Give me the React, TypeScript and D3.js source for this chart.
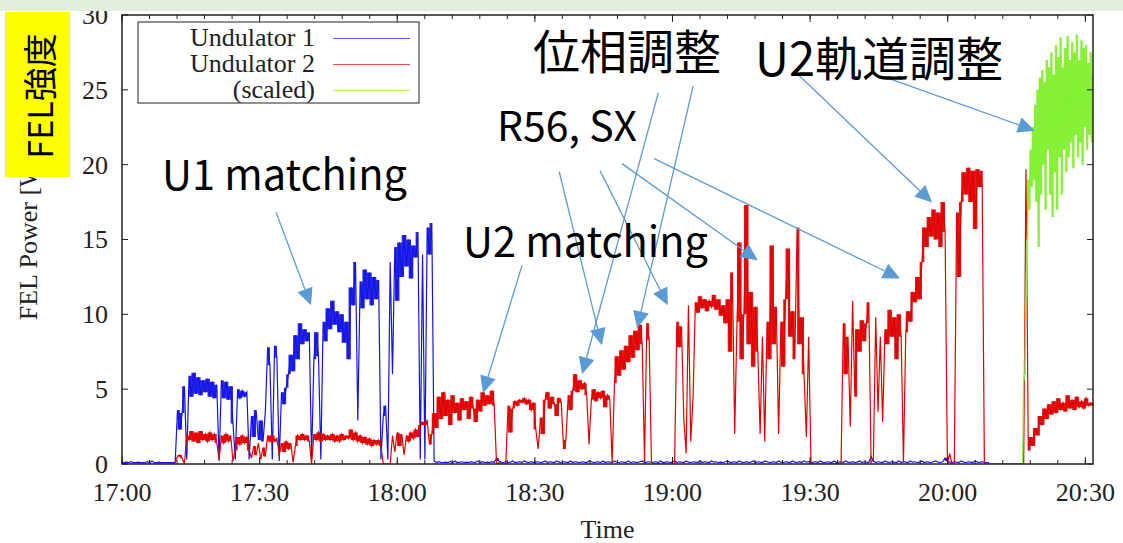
import React, { useEffect } from "react";
import * as d3 from "d3";

// ---- data ----
// logged samples, minutes after 17:00, one every SAMPLE_MIN minutes
const SAMPLE_MIN = 0.504;
const X_MAX_MIN = 211.67;

// Undulator 1 (blue) FEL power [W]
const undulator1: number[] = [
  0.1, 0.1, 0.12, 0.1, 0.15, 0.1, 0.1, 0.12, 0.1, 0.1,
  0.1, 0.15, 0.1, 0.2, 0.1, 0.1, 0.12, 0.1, 0.1, 0.1,
  0.1, 0.1, 0.1, 0.1, 3.6, 2.3, 3.4, 5.2, 0.3, 5.9,
  4.5, 6.1, 4.7, 5.8, 4.6, 5.6, 4.8, 5.7, 4.5, 5.5,
  4.4, 5.3, 0.2, 5.6, 4.4, 5.5, 4.3, 5.2, 2.7, 0.3,
  5.0, 4.4, 4.9, 4.5, 4.8, 0.3, 3.2, 1.8, 3.6, 1.6,
  2.9, 1.5, 3.5, 7.8, 6.6, 0.3, 7.9, 7.1, 0.2, 4.8,
  4.0, 5.1, 6.0, 7.3, 6.2, 8.6, 7.0, 9.4, 8.0, 9.0,
  8.2, 8.8, 0.3, 7.0, 8.8, 7.2, 0.3, 9.5, 8.2, 10.4,
  9.0, 10.9, 9.3, 10.2, 8.8, 10.0, 8.1, 9.5, 7.0, 11.8,
  10.6, 13.5, 2.9, 12.2, 10.4, 13.0, 11.0, 12.8, 10.6, 12.5,
  11.0, 12.3, 0.3, 3.2, 3.9, 0.3, 13.5, 6.0, 14.5, 10.9,
  14.8, 12.5, 15.3, 13.2, 15.0, 12.4, 14.6, 13.8, 15.5, 0.3,
  14.0, 0.3, 15.8, 14.0, 16.1, 0.2, 0.1, 0.15, 0.1, 0.1,
  0.12, 0.1, 0.15, 0.1, 0.2, 0.1, 0.12, 0.15, 0.1, 0.12,
  0.1, 0.15, 0.1, 0.12, 0.2, 0.1, 0.15, 0.1, 0.12, 0.1,
  0.15, 0.1, 0.4, 0.2, 0.12, 0.1, 0.15, 0.1, 0.12, 0.2,
  0.1, 0.12, 0.15, 0.1, 0.2, 0.12, 0.1, 0.15, 0.1, 0.12,
  0.15, 0.1, 0.12, 0.2, 0.1, 0.15, 0.12, 0.1, 0.2, 0.12,
  0.1, 0.15, 0.12, 0.1, 0.2, 0.1, 0.15, 0.12, 0.1, 0.15,
  0.12, 0.1, 0.2, 0.15, 0.1, 0.12, 0.15, 0.1, 0.2, 0.1,
  0.15, 0.12, 0.1, 0.2, 0.12, 0.1, 0.15, 0.12, 0.1, 0.2,
  0.1, 0.15, 0.12, 0.1, 0.15, 0.2, 0.1, 0.12, 0.15, 0.1,
  0.12, 0.15, 0.1, 0.2, 0.1, 0.12, 0.15, 0.1, 0.12, 0.2,
  0.1, 0.15, 0.12, 0.1, 0.2, 0.12, 0.1, 0.15, 0.12, 0.1,
  0.2, 0.1, 0.15, 0.12, 0.1, 0.2, 0.12, 0.15, 0.1, 0.12,
  0.1, 0.15, 0.2, 0.1, 0.12, 0.15, 0.1, 0.2, 0.12, 0.1,
  0.15, 0.1, 0.12, 0.2, 0.1, 0.15, 0.12, 0.1, 0.2, 0.15,
  0.1, 0.12, 0.15, 0.1, 0.2, 0.12, 0.1, 0.15, 0.12, 0.1,
  0.2, 0.12, 0.1, 0.15, 0.1, 0.2, 0.12, 0.15, 0.1, 0.12,
  0.15, 0.1, 0.2, 0.12, 0.1, 0.15, 0.12, 0.1, 0.2, 0.1,
  0.12, 0.15, 0.1, 0.2, 0.12, 0.1, 0.15, 0.1, 0.12, 0.2,
  0.1, 0.15, 0.12, 0.1, 0.5, 0.2, 0.1, 0.15, 0.12, 0.1,
  0.2, 0.12, 0.1, 0.15, 0.12, 0.1, 0.2, 0.1, 0.15, 0.12,
  0.1, 0.2, 0.12, 0.15, 0.1, 0.12, 0.2, 0.1, 0.15, 0.12,
  0.1, 0.15, 0.2, 0.12, 0.1, 0.15, 0.4, 0.2, 0.12, 0.1,
  0.15, 0.12, 0.1, 0.2, 0.12, 0.1, 0.15, 0.12, 0.1, 0.2,
  0.12, 0.1, 0.15, 0.1, 0.1, 0.1,
];

// Undulator 2 (red) FEL power [W]
const undulator2: number[] = [
  0, 0, 0, 0, 0, 0, 0, 0, 0, 0,
  0, 0, 0, 0, 0, 0, 0, 0, 0, 0,
  0, 0, 0, 0.1, 0.5, 0.6, 0.4, 0, 1.9, 1.6,
  2.2, 1.5, 2.1, 1.4, 2.2, 1.6, 2.0, 1.5, 2.1, 1.6,
  2.0, 1.4, 0.3, 1.9, 1.4, 2.0, 1.5, 1.9, 0.2, 0.9,
  1.8, 1.3, 1.9, 1.4, 1.8, 0.9, 0.4, 1.2, 0.6, 1.4,
  0.3, 1.1, 0.5, 1.9, 1.5, 1.9, 1.5, 1.7, 0.6, 1.4,
  0.8, 1.5, 1.0, 1.4, 0.1, 1.2, 1.9, 1.6, 2.0, 1.6,
  1.9, 1.5, 0, 2.0, 1.6, 2.1, 1.5, 2.0, 1.6, 1.9,
  1.6, 2.0, 1.5, 1.9, 1.5, 2.0, 1.6, 1.9, 1.7, 2.3,
  1.6, 2.1, 1.5, 1.9, 1.4, 1.8, 1.3, 1.7, 1.2, 1.6,
  1.3, 1.6, 1.2, 0, 0, 0, 0, 1.9, 0.8, 2.1,
  1.2, 2.0, 0.6, 1.9, 1.5, 2.1, 1.7, 2.3, 1.8, 2.6,
  2.8, 2.6, 2.9, 1.3, 2.0, 3.4, 2.4, 4.5, 3.0, 4.8,
  3.2, 4.3, 2.6, 4.6, 3.4, 4.1, 2.9, 4.4, 3.6, 4.2,
  3.0, 4.5, 3.7, 2.8, 4.3, 3.5, 4.8, 3.9, 4.6, 4.0,
  4.9, 3.9, 0, 0.1, 0, 0, 0, 3.9, 2.1, 3.7,
  4.2, 3.9, 4.3, 4.1, 4.4, 4.0, 4.3, 3.6, 4.1, 2.3,
  1.0, 3.1, 2.0, 4.3, 4.8, 3.7, 4.5, 4.0, 3.2, 4.4,
  4.1, 1.0, 1.6, 4.6, 3.6, 4.9, 6.0, 4.8, 5.6, 5.0,
  5.4, 4.6, 1.3, 4.3, 5.0, 4.2, 4.8, 4.4, 4.9, 3.8,
  4.6, 4.3, 0.1, 5.4, 7.2, 5.9, 7.6, 6.3, 7.9, 6.8,
  8.6, 7.1, 8.9, 7.6, 9.3, 8.0, 0.2, 9.4, 8.3, 0.1,
  0, 0, 0, 0, 0, 0, 0, 0, 0, 0,
  9.5, 7.8, 9.2, 3.0, 0.7, 10.6, 1.5, 4.5, 10.8, 10.1,
  11.2, 10.4, 11.0, 10.2, 10.9, 10.5, 11.3, 10.3, 11.0, 9.9,
  10.6, 9.4, 11.0, 7.5, 12.8, 2.0, 9.5, 14.8, 7.0, 10.0,
  17.3, 8.0, 11.5, 6.5, 10.5, 7.5, 2.0, 8.5, 1.5, 9.5,
  7.0, 14.6, 8.0, 10.5, 2.0, 9.5, 6.5, 11.0, 14.4, 8.5,
  10.2, 7.0, 15.8, 8.0, 9.8, 6.0, 1.8, 8.5, 0.1, 0,
  0, 0, 0, 0, 0, 0, 0, 0, 0, 0,
  0, 0, 9.4, 6.0, 8.5, 2.5, 10.9, 4.5, 9.0, 7.5,
  9.6, 8.2, 9.4, 10.8, 0.1, 0.3, 9.8, 3.5, 8.5, 2.8,
  9.0, 8.0, 10.3, 8.5, 9.8, 7.0, 10.0, 8.5, 0.1, 8.8,
  10.2, 9.5, 11.5, 10.8, 12.5, 11.0, 13.5, 15.8, 14.5, 16.5,
  15.2, 17.0, 15.0, 16.8, 14.5, 17.5, 15.5, 0.1, 0.7, 0,
  0, 16.8, 12.5, 17.5, 19.5, 18.0, 19.8, 17.5, 19.6, 15.7,
  19.7, 18.5, 19.6, 0, 0, 0, 0, 0, 0, 0,
  0, 0, 0, 0, 0, 0, 0, 0, 0, 0,
  0, 19.7, 0.9, 1.8, 1.2, 2.4, 1.9, 3.2, 2.6, 3.7,
  3.0, 4.0, 3.3, 4.2, 3.4, 4.4, 3.6, 4.1, 3.5, 4.6,
  3.7, 4.3, 3.6, 4.5, 3.8, 4.2, 3.7, 4.4, 3.9, 4.1,
  3.9,
];

// Undulator 2 (scaled, green) from 20:16
const SCALED_START_MIN = 196.3;
const SCALED_STEP_MIN = 0.252;
const undulator2Scaled: number[] = [
  0, 5.6, 6.0, 11.0, 15.0, 19.0, 17.0, 21.0, 18.5, 22.5,
  19.0, 24.0, 17.5, 25.0, 14.5, 25.8, 18.0, 26.3, 20.0, 25.5,
  17.0, 27.0, 21.0, 26.5, 18.0, 27.5, 16.5, 26.0, 19.5, 28.0,
  17.0, 27.2, 20.5, 28.5, 18.0, 26.5, 21.0, 27.8, 19.5, 28.6,
  20.5, 27.0, 21.5, 28.2, 19.8, 27.5, 22.0, 28.7, 20.5, 27.0,
  21.5, 28.3, 20.0, 27.8, 22.5, 28.0, 21.0, 26.8, 22.0, 27.5,
  21.5, 26.0,
];

const xMajorTicks = [0, 30, 60, 90, 120, 150, 180, 210];
const xTickLabels = ["17:00", "17:30", "18:00", "18:30", "19:00", "19:30", "20:00", "20:30"];
const yTicks = [0, 5, 10, 15, 20, 25, 30];
const legendLabels = ["Undulator 1", "Undulator 2", "(scaled)"];

// slide annotations: arrows in data coordinates [t0, v0, t1, v1]
const arrowList: [number, number, number, number][] = [
  [33.6, 16.8, 41.2, 10.6],
  [87.2, 13.27, 78.7, 4.73],
  [95.3, 19.53, 104.6, 7.93],
  [104.2, 19.6, 119.0, 10.6],
  [109.0, 20.07, 138.6, 13.6],
  [116.0, 20.4, 169.6, 12.4],
  [116.9, 24.8, 100.3, 6.0],
  [124.5, 25.27, 112.3, 9.07],
  [147.2, 26.07, 176.6, 17.47],
  [167.4, 25.73, 199.0, 22.27],
];
const noteTexts = ["U1 matching", "U2 matching", "R56, SX", "位相調整", "U2軌道調整"];

const COLORS = { u1: "#1414e6", u2: "#e00000", sc: "#84f032", arrow: "#5b9bd5" };
const SERIF = "'Liberation Serif', 'Times New Roman', serif";
const JP = "'Noto Sans CJK JP', 'Noto Sans', sans-serif";

export default function App() {
  useEffect(() => {
    document.body.style.margin = "0";
  }, []);

  const W = 1123, H = 543;
  const L = 122, R = 1093, T = 15, B = 464;
  const x = d3.scaleLinear().domain([0, X_MAX_MIN]).range([L, R]);
  const y = d3.scaleLinear().domain([0, 30]).range([B, T]);

  const u1Pts: [number, number][] = undulator1.map((v, i) => [i * SAMPLE_MIN, v]);
  const u2Pts: [number, number][] = undulator2.map((v, i) => [i * SAMPLE_MIN, v]);
  const scPts: [number, number][] = undulator2Scaled.map((v, i) => [
    SCALED_START_MIN + i * SCALED_STEP_MIN,
    v,
  ]);

  const line = d3
    .line<[number, number]>()
    .x((d) => x(d[0]))
    .y((d) => y(d[1]));

  // dense-noise core: the span covered between consecutive samples
  // (dropouts and isolated spikes stay as thin lines)
  const core = (pts: [number, number][], ratio: number) => {
    const out: string[] = [];
    for (let i = 0; i + 1 < pts.length; i++) {
      const a = pts[i][1], b = pts[i + 1][1];
      const lo = Math.min(a, b), hi = Math.max(a, b);
      if (hi < 0.3 || lo < ratio * hi) continue;
      const x0 = x(pts[i][0]), x1 = x(pts[i + 1][0]);
      out.push(`M${x0},${y(hi)}H${x1}V${y(lo)}H${x0}Z`);
    }
    return out.join("");
  };

  const minorTicks = d3.range(0, X_MAX_MIN, 6);

  const notePos: { x: number; y: number; size: number }[] = [
    { x: 162, y: 190, size: 41.5 },
    { x: 463, y: 257, size: 41.5 },
    { x: 497, y: 141, size: 41 },
    { x: 533, y: 69, size: 47 },
    { x: 755, y: 76, size: 47 },
  ];

  const arrowEls = arrowList.map(([t0, v0, t1, v1], i) => {
    const x0 = x(t0), y0 = y(v0), x1 = x(t1), y1 = y(v1);
    const dx = x1 - x0, dy = y1 - y0;
    const len = Math.hypot(dx, dy);
    const ux = dx / len, uy = dy / len;
    const hl = 17, hw = 8;
    const bx = x1 - ux * hl, by = y1 - uy * hl;
    const pts = [
      [x1, y1],
      [bx - uy * hw, by + ux * hw],
      [bx + uy * hw, by - ux * hw],
    ]
      .map((p) => p.join(","))
      .join(" ");
    return (
      <g key={i}>
        <line x1={x0} y1={y0} x2={bx} y2={by} stroke={COLORS.arrow} strokeWidth={1.3} />
        <polygon points={pts} fill={COLORS.arrow} />
      </g>
    );
  });

  return (
    <svg
      width={W}
      height={H}
      style={{ position: "absolute", left: 0, top: 0, background: "#fff" }}
    >
      <rect x={0} y={0} width={W} height={H} fill="#fff" />
      <defs>
        <clipPath id="plotclip">
          <rect x={L} y={T} width={R - L} height={B - T} />
        </clipPath>
      </defs>

      {/* data */}
      <g clipPath="url(#plotclip)">
        <path d={core(u1Pts, 0.45)} fill={COLORS.u1} opacity={0.92} />
        <path d={line(u1Pts) || ""} fill="none" stroke={COLORS.u1} strokeWidth={1.2} />
        <path d={core(u2Pts, 0.45)} fill={COLORS.u2} opacity={0.92} />
        <path d={line(u2Pts) || ""} fill="none" stroke={COLORS.u2} strokeWidth={1.2} />
        <path d={core(scPts, 0.45)} fill={COLORS.sc} opacity={0.92} />
        <path d={line(scPts) || ""} fill="none" stroke={COLORS.sc} strokeWidth={1.2} />
      </g>

      {/* ticks */}
      <g stroke="#222" strokeWidth={1}>
        {yTicks.map((v) => (
          <g key={"y" + v}>
            <line x1={L} x2={L + 6} y1={y(v)} y2={y(v)} />
            <line x1={R} x2={R - 6} y1={y(v)} y2={y(v)} />
          </g>
        ))}
        {minorTicks.map((t) => (
          <g key={"m" + t}>
            <line x1={x(t)} x2={x(t)} y1={B} y2={B - 4} />
            <line x1={x(t)} x2={x(t)} y1={T} y2={T + 4} />
          </g>
        ))}
        {xMajorTicks.map((t) => (
          <g key={"x" + t}>
            <line x1={x(t)} x2={x(t)} y1={B} y2={B - 7} />
            <line x1={x(t)} x2={x(t)} y1={T} y2={T + 7} />
          </g>
        ))}
      </g>
      <rect x={L} y={T} width={R - L} height={B - T} fill="none" stroke="#222" strokeWidth={1.5} />

      {/* tick labels */}
      <g fontFamily={SERIF} fontSize={26} fill="#222">
        {yTicks.map((v) => (
          <text key={"yl" + v} x={108} y={y(v)} dy="0.34em" textAnchor="end">
            {v}
          </text>
        ))}
        {xMajorTicks.map((t, i) => (
          <text key={"xl" + t} x={x(t)} y={501} textAnchor="middle">
            {xTickLabels[i]}
          </text>
        ))}
        <text x={(L + R) / 2} y={538} textAnchor="middle">
          Time
        </text>
        <text transform={`translate(37,237) rotate(-90)`} textAnchor="middle">
          FEL Power [W]
        </text>
      </g>

      {/* legend */}
      <g>
        <rect x={138} y={22} width={281} height={81} fill="none" stroke="#222" strokeWidth={1} />
        {legendLabels.map((lab, i) => {
          const c = [COLORS.u1, COLORS.u2, COLORS.sc][i];
          const by = 45.5 + i * 26;
          return (
            <g key={lab}>
              <text x={315} y={by} textAnchor="end" fontFamily={SERIF} fontSize={26} fill="#222">
                {lab}
              </text>
              <line x1={333} x2={410} y1={by - 7} y2={by - 7} stroke={c} strokeWidth={1} opacity={0.7} />
            </g>
          );
        })}
      </g>

      {/* annotations */}
      {arrowEls}
      <g fontFamily={JP} fill="#000">
        {noteTexts.map((s, i) => (
          <text key={s} x={notePos[i].x} y={notePos[i].y} fontSize={notePos[i].size}>
            {s}
          </text>
        ))}
      </g>

      {/* yellow label box */}
      <rect x={5} y={12} width={65} height={165} fill="#ffff00" />
      <text
        transform="translate(38,96) rotate(-90)"
        textAnchor="middle"
        dominantBaseline="central"
        fontFamily={JP}
        fontSize={34}
        fill="#000"
      >
        FEL強度
      </text>

      {/* slide header band */}
      <rect x={0} y={0} width={W} height={11} fill="#e2efda" />
    </svg>
  );
}
